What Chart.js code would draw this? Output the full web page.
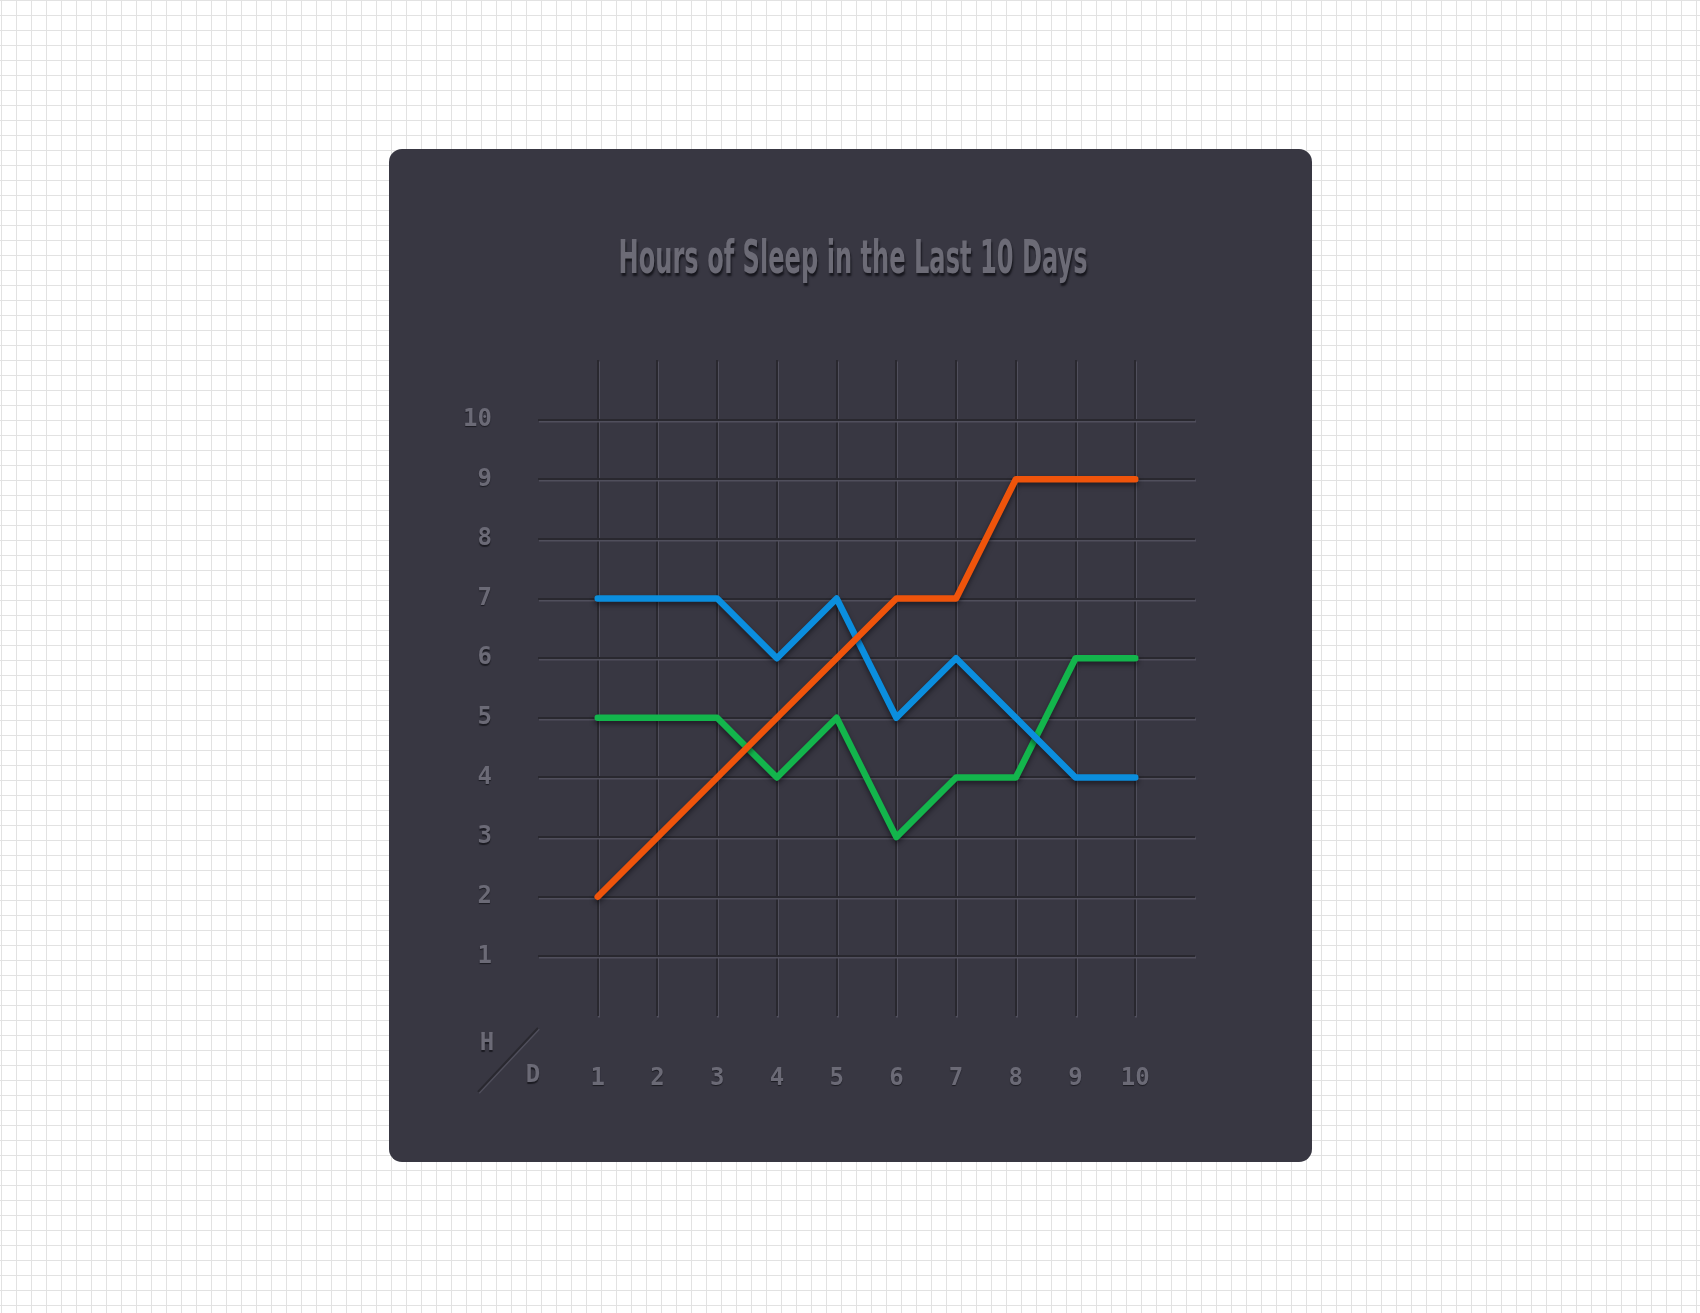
<!DOCTYPE html>
<html><head><meta charset="utf-8">
<script src="https://cdn.jsdelivr.net/npm/chart.js@4/dist/chart.umd.min.js"></script>
<style>
html,body{margin:0;padding:0;}
body{width:1700px;height:1313px;overflow:hidden;position:relative;background-color:#fff;
background-image:linear-gradient(to right,#e2e2e2 1px,transparent 1px),linear-gradient(to bottom,#e2e2e2 1px,transparent 1px);
background-size:15px 15px;background-position:1px 0px;}
#card{position:absolute;left:389px;top:149px;width:923px;height:1013px;border-radius:13px;background:#383742;}
#c{position:absolute;left:0;top:0;}
</style></head><body>
<div id="card"></div>
<canvas id="c" width="1700" height="1313"></canvas>
<script>
const days = [1, 2, 3, 4, 5, 6, 7, 8, 9, 10];
const orangeHours = [2, 3, 4, 5, 6, 7, 7, 9, 9, 9];
const blueHours = [7, 7, 7, 6, 7, 5, 6, 5, 4, 4];
const greenHours = [5, 5, 5, 4, 5, 3, 4, 4, 6, 6];
const xTickLabels = ['1', '2', '3', '4', '5', '6', '7', '8', '9', '10'];
const yTickLabels = ['1', '2', '3', '4', '5', '6', '7', '8', '9', '10'];
const titleText = 'Hours of Sleep in the Last 10 Days';
const cornerLabels = ['H', 'D'];

const GRID = '#29282f';
const LABEL = '#6b6a76';
const tickFont = {family: '"DejaVu Sans Mono", monospace', size: 24, weight: 'bold'};

function toPoints(vals) { return days.map((d, i) => ({x: d, y: vals[i]})); }

const effects = {
  id: 'effects',
  beforeDraw(chart) {
    const ctx = chart.ctx;
    ctx.save();
    ctx.shadowColor = 'rgba(80,79,92,1)';
    ctx.shadowOffsetX = 1;
    ctx.shadowOffsetY = 1.5;
    ctx.shadowBlur = 0;
  },
  beforeDatasetsDraw(chart) { chart.ctx.restore(); },
  beforeDatasetDraw(chart) {
    const ctx = chart.ctx;
    ctx.save();
    ctx.shadowColor = 'rgba(10,10,15,0.55)';
    ctx.shadowOffsetY = 3;
    ctx.shadowBlur = 5;
  },
  afterDatasetDraw(chart) { chart.ctx.restore(); },
  afterDatasetsDraw(chart) {
    const ctx = chart.ctx;
    ctx.save();
    ctx.shadowColor = 'rgba(20,20,26,0.8)';
    ctx.shadowOffsetX = 0;
    ctx.shadowOffsetY = 1.5;
    ctx.shadowBlur = 1;
  },
  afterDraw(chart) {
    const ctx = chart.ctx;
    ctx.restore();
    const a = chart.chartArea;
    // title
    ctx.save();
    ctx.font = 'bold 47px "DejaVu Sans Condensed", "DejaVu Sans", sans-serif';
    const w = ctx.measureText(titleText).width;
    const sx = 469 / w;
    ctx.translate(853, 273);
    ctx.scale(sx, 1);
    ctx.textAlign = 'center';
    ctx.textBaseline = 'alphabetic';
    ctx.shadowColor = 'rgba(18,18,24,0.85)';
    ctx.shadowOffsetY = 2.5;
    ctx.shadowOffsetX = 1;
    ctx.shadowBlur = 2;
    ctx.fillStyle = '#6c6b76';
    ctx.fillText(titleText, 0, 0);
    ctx.restore();
    // corner H / D
    ctx.save();
    ctx.strokeStyle = GRID;
    ctx.lineWidth = 2;
    ctx.shadowColor = 'rgba(80,79,92,1)';
    ctx.shadowOffsetX = 1;
    ctx.shadowOffsetY = 1;
    ctx.beginPath();
    ctx.moveTo(a.left, a.bottom + 12);
    ctx.lineTo(a.left - 60, a.bottom + 76);
    ctx.stroke();
    ctx.shadowColor = 'rgba(20,20,26,0.8)';
    ctx.shadowOffsetX = 0;
    ctx.shadowOffsetY = 1.5;
    ctx.shadowBlur = 1;
    ctx.font = 'bold 24px "DejaVu Sans Mono", monospace';
    ctx.fillStyle = LABEL;
    ctx.textAlign = 'center';
    ctx.textBaseline = 'middle';
    ctx.fillText(cornerLabels[0], a.left - 51, a.bottom + 28);
    ctx.fillText(cornerLabels[1], a.left - 5, a.bottom + 60);
    ctx.restore();
  }
};

const lineStyle = {
  borderWidth: 6.5, pointRadius: 0, pointHoverRadius: 0, fill: false,
  borderJoinStyle: 'round', borderCapStyle: 'round', tension: 0
};

new Chart(document.getElementById('c'), {
  type: 'line',
  data: {
    datasets: [
      Object.assign({label: 'Orange', data: toPoints(orangeHours), borderColor: '#ef540b'}, lineStyle),
      Object.assign({label: 'Blue', data: toPoints(blueHours), borderColor: '#0b8ede'}, lineStyle),
      Object.assign({label: 'Green', data: toPoints(greenHours), borderColor: '#13b54c'}, lineStyle)
    ]
  },
  options: {
    responsive: false,
    animation: false,
    devicePixelRatio: 1,
    layout: {padding: {left: 0, top: 360, right: 505, bottom: 0}},
    plugins: {legend: {display: false}, title: {display: false}, tooltip: {enabled: false}},
    scales: {
      x: {
        type: 'linear', min: 0, max: 11,
        afterFit(s) { s.height = 297; },
        border: {display: false},
        grid: {
          z: -1, drawTicks: false, lineWidth: 2,
          color: (c) => (c.tick && c.tick.value >= 1 && c.tick.value <= 10) ? GRID : 'rgba(0,0,0,0)'
        },
        ticks: {
          z: 1, stepSize: 1, autoSkip: false, maxRotation: 0, padding: 48,
          color: LABEL, font: tickFont,
          callback: (v) => (v >= 1 && v <= 10) ? xTickLabels[v - 1] : ''
        }
      },
      y: {
        type: 'linear', min: 0, max: 11,
        afterFit(s) { s.width = 538; },
        border: {display: false},
        grid: {
          z: -1, drawTicks: false, lineWidth: 2,
          color: (c) => (c.tick && c.tick.value >= 1 && c.tick.value <= 10) ? GRID : 'rgba(0,0,0,0)'
        },
        ticks: {
          z: 1, stepSize: 1, autoSkip: false, padding: 46,
          color: LABEL, font: tickFont,
          callback: (v) => (v >= 1 && v <= 10) ? yTickLabels[v - 1] : ''
        }
      }
    }
  },
  plugins: [effects]
});
</script>
</body></html>
